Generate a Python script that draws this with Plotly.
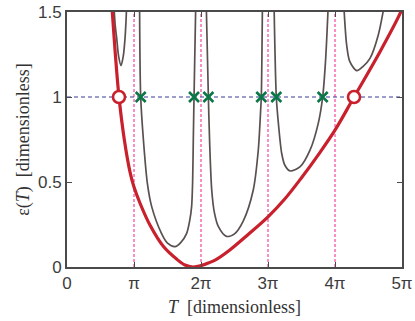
import numpy as np
import plotly.graph_objects as go

PI = np.pi

# T values are given in units of pi
red_u = [0.665, 0.72, 0.776, 0.855, 0.94, 1.0, 1.09, 1.24, 1.44, 1.64, 1.76, 1.88, 2.0, 2.12, 2.23, 2.43,
         2.7, 3.0, 3.25, 3.5, 3.75, 4.0, 4.284, 4.67, 4.97, 5.0]
red_y = [1.56, 1.26, 1.00, 0.75, 0.56, 0.47, 0.375, 0.245, 0.12, 0.045, 0.012, 0.0, 0.008, 0.025, 0.045, 0.10,
         0.19, 0.295, 0.40, 0.525, 0.66, 0.805, 1.0, 1.265, 1.49, 1.52]

gray1_u = [0.698, 0.72, 0.742, 0.77, 0.806, 0.84, 0.866, 0.88, 0.892]
gray1_y = [1.55, 1.42, 1.345, 1.24, 1.185, 1.24, 1.345, 1.44, 1.55]

gray2_u = [1.083, 1.10, 1.14, 1.20, 1.264, 1.41, 1.50, 1.612, 1.70, 1.786, 1.83, 1.86, 1.875, 1.885, 1.896, 1.922]
gray2_y = [1.55, 1.0, 0.75, 0.49, 0.355, 0.198, 0.14, 0.12, 0.145, 0.198, 0.27, 0.355, 0.5, 0.747, 1.0, 1.55]

gray3_u = [2.078, 2.11, 2.13, 2.16, 2.20, 2.26, 2.38, 2.50, 2.63, 2.78, 2.855, 2.89, 2.90, 2.917]
gray3_y = [1.55, 1.0, 0.72, 0.453, 0.32, 0.237, 0.18, 0.195, 0.27, 0.453, 0.688, 0.92, 1.0, 1.55]

gray4_u = [3.09, 3.124, 3.155, 3.204, 3.25, 3.33, 3.48, 3.63, 3.75, 3.816, 3.86, 3.90]
gray4_y = [1.55, 1.0, 0.845, 0.669, 0.60, 0.565, 0.59, 0.69, 0.845, 1.0, 1.22, 1.55]

gray5_u = [4.13, 4.174, 4.22, 4.324, 4.42, 4.522, 4.646, 4.74]
gray5_y = [1.55, 1.306, 1.21, 1.155, 1.18, 1.227, 1.365, 1.55]

asym_u = [1, 2, 3, 4]
level = 1.0
cross_u = [1.10, 1.896, 2.11, 2.90, 3.124, 3.816]
circle_u = [0.776, 4.284]

tick_u = [0, 1, 2, 3, 4, 5]
tick_text = ["0", "π", "2π", "3π", "4π", "5π"]
ytick_vals = [0, 0.5, 1, 1.5]
ytick_text = ["0", "0.5", "1", "1.5"]

fig = go.Figure()

for a in asym_u:
    fig.add_trace(go.Scatter(x=[a * PI, a * PI], y=[0, 1.5], mode="lines",
                             line=dict(color="#f0208c", width=1, dash="3px,2px"),
                             hoverinfo="skip"))

fig.add_trace(go.Scatter(x=[0, 5 * PI], y=[level, level], mode="lines",
                         line=dict(color="#3a3a96", width=1, dash="4px,3px"), hoverinfo="skip"))

for gu, gy in [(gray1_u, gray1_y), (gray2_u, gray2_y), (gray3_u, gray3_y),
               (gray4_u, gray4_y), (gray5_u, gray5_y)]:
    fig.add_trace(go.Scatter(x=[u * PI for u in gu], y=gy, mode="lines",
                             line=dict(color="#5b5050", width=1.7, shape="spline", smoothing=0.8)))

fig.add_trace(go.Scatter(x=[u * PI for u in red_u], y=red_y, mode="lines",
                         line=dict(color="#c8202c", width=3.2, shape="spline", smoothing=1.0)))

fig.add_trace(go.Scatter(x=[u * PI for u in cross_u], y=[level] * len(cross_u), mode="markers",
                         marker=dict(symbol="x-thin", size=10, line=dict(color="#0a7748", width=2.6))))

fig.add_trace(go.Scatter(x=[u * PI for u in circle_u], y=[level] * len(circle_u), mode="markers",
                         marker=dict(symbol="circle", size=12, color="white",
                                     line=dict(color="#c8202c", width=2.6))))

axis_common = dict(showline=True, linecolor="#4a4a4a", linewidth=2, mirror="ticks",
                   ticks="inside", ticklen=5, tickwidth=1, tickcolor="#4a4a4a",
                   showgrid=False, zeroline=False, automargin=False,
                   tickfont=dict(family="Liberation Sans, Arial", size=17, color="#3c3c3c"))

fig.update_layout(
    width=415, height=321,
    margin=dict(l=67, r=13, t=12, b=54),
    plot_bgcolor="white", paper_bgcolor="white",
    showlegend=False,
    xaxis=dict(range=[0, 5 * PI], tickvals=[u * PI for u in tick_u], ticktext=tick_text,
               title=dict(text="<i>T</i>  [dimensionless]", standoff=8,
                          font=dict(family="Liberation Serif, Times New Roman", size=18, color="#333")),
               **axis_common),
    yaxis=dict(range=[0, 1.5], tickvals=ytick_vals, ticktext=ytick_text,
               title=dict(text="ε(<i>T</i>)  [dimensionless]", standoff=4,
                          font=dict(family="Liberation Serif, Times New Roman", size=18, color="#333")),
               **axis_common),
)

fig.write_html("out.html", config={"displayModeBar": False},
               post_script="document.body.style.margin='0px';")
